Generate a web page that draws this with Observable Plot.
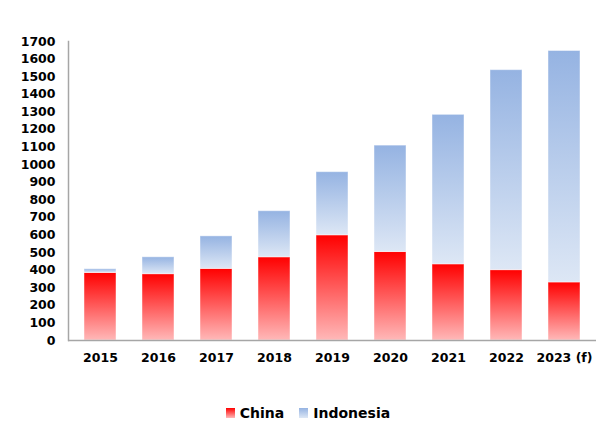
<!DOCTYPE html>
<html><head><meta charset="utf-8">
<script src="https://cdn.jsdelivr.net/npm/d3@7"></script>
<script src="https://cdn.jsdelivr.net/npm/@observablehq/plot@0.6"></script>
<style>
body{margin:0;background:#fff;font-family:"DejaVu Sans",sans-serif;}
#legend{display:flex;justify-content:center;align-items:center;gap:15px;margin-top:33px;height:20px;font-weight:bold;font-size:14px;color:#000;padding-left:4px;}
.item{display:flex;align-items:center;gap:5px;}
.sw{width:9px;height:10px;display:inline-block;}
</style></head><body><div id="chart"></div><div id="legend"></div>
<script>
const years = ["2015","2016","2017","2018","2019","2020","2021","2022","2023 (f)"];
const china = [384,377,407,473,598,503,433,400,330];
const indonesia = [21,96,185,262,359,605,850,1137,1316];
const seriesNames = ["China","Indonesia"];
const yTicks = [0,100,200,300,400,500,600,700,800,900,1000,1100,1200,1300,1400,1500,1600,1700];

const gradStops = {China:["#ff0000","#ffb8b8"], Indonesia:["#95b3e2","#dde7f5"]};
const gradIds = {China:"gradChina", Indonesia:"gradIndonesia"};

const rows = [];
seriesNames.forEach((s) => {
  const vals = s === "China" ? china : indonesia;
  years.forEach((y, i) => rows.push({year:y, series:s, value:vals[i]}));
});

const defsMark = () => {
  const d = d3.create("svg:defs");
  seriesNames.forEach(s => {
    const g = d.append("linearGradient").attr("id", gradIds[s]).attr("x1",0).attr("y1",0).attr("x2",0).attr("y2",1);
    g.append("stop").attr("offset","0%").attr("stop-color", gradStops[s][0]);
    g.append("stop").attr("offset","100%").attr("stop-color", gradStops[s][1]);
  });
  return d.node();
};

const chart = Plot.plot({
  width:612, height:370,
  marginLeft:68, marginRight:16, marginTop:41, marginBottom:30,
  style:{fontFamily:"'DejaVu Sans', sans-serif", fontWeight:"bold", fontSize:"12.5px", color:"#000", background:"#fff"},
  x:{domain:years, paddingInner:0.44, paddingOuter:0.22, label:null, tickSize:0, tickPadding:13},
  y:{domain:[0,1700], ticks:yTicks, label:null, tickSize:0, tickPadding:13, tickFormat:d=>String(d)},
  color:{domain:seriesNames, range:seriesNames.map(s=>`url(#${gradIds[s]})`)},
  marks:[
    defsMark,
    Plot.barY(rows, {x:"year", y:"value", fill:"series", stroke:"#ffffff", strokeOpacity:0.45, strokeWidth:1}),
    Plot.frame({anchor:"left", stroke:"#a6a6a6", strokeWidth:1.5}),
    Plot.ruleY([0], {stroke:"#a6a6a6", strokeWidth:1.5})
  ]
});
document.getElementById("chart").appendChild(chart);

const leg = d3.select("#legend");
seriesNames.forEach(s => {
  const it = leg.append("div").attr("class","item");
  it.append("span").attr("class","sw").style("background", `linear-gradient(${gradStops[s][0]}, ${gradStops[s][1]})`);
  it.append("span").text(s);
});
</script></body></html>
